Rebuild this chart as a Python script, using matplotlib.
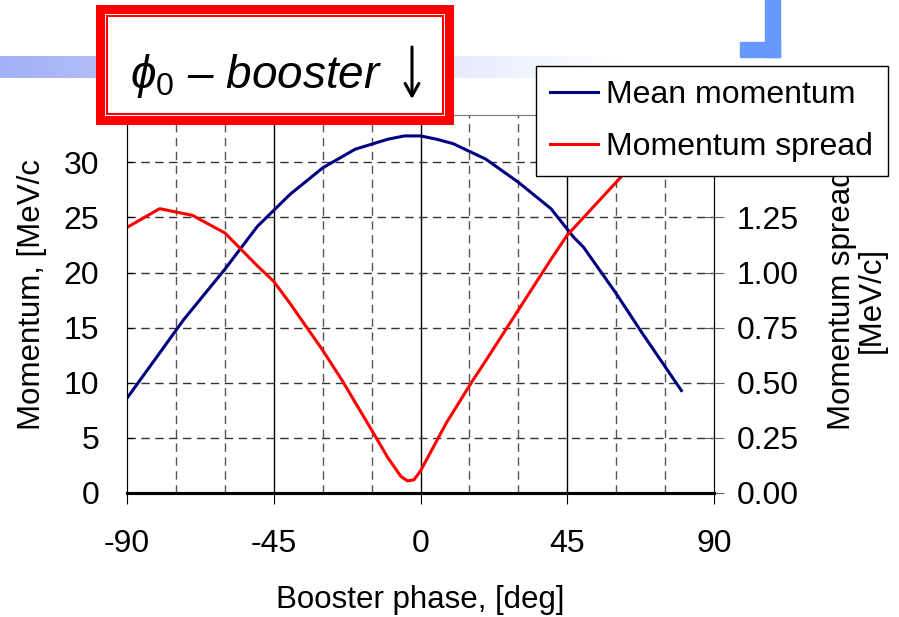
import numpy as np
import matplotlib
matplotlib.use("Agg")
import matplotlib.pyplot as plt
from matplotlib.patches import Rectangle, FancyArrowPatch

plt.rcParams['font.family'] = ['Liberation Sans', 'DejaVu Sans']
plt.rcParams['mathtext.fontset'] = 'custom'
plt.rcParams['mathtext.it'] = 'Liberation Sans:italic'
plt.rcParams['mathtext.rm'] = 'Liberation Sans'
plt.rcParams['axes.unicode_minus'] = False

# mean momentum, MeV/c (left axis)
phase_mean = [-90, -80, -72.7, -60, -50, -40, -30, -20, -10, -5, 0, 5, 10, 20, 30, 40, 47, 50, 60, 68, 80]
mean_mom = [8.6, 12.7, 15.7, 20.3, 24.2, 27.1, 29.5, 31.2, 32.1, 32.4, 32.4, 32.1, 31.7, 30.3, 28.2, 25.8, 23.2, 22.3, 18.1, 14.5, 9.3]

# momentum spread, MeV/c (right axis)
phase_spread = [-90, -80, -70, -60, -50, -45, -40, -30, -24, -15, -10, -6, -4, -2, 0, 4, 8, 16, 20, 30, 40, 45, 50, 55, 60, 65, 70, 80]
spread = [1.205, 1.29, 1.26, 1.18, 1.03, 0.96, 0.86, 0.648, 0.51, 0.286, 0.16, 0.075, 0.055, 0.06, 0.10, 0.21, 0.32, 0.51, 0.60, 0.83, 1.06, 1.17, 1.25, 1.33, 1.41, 1.49, 1.56, 1.70]

right_ticks = [0, 0.25, 0.5, 0.75, 1.0, 1.25, 1.5]
right_labels = ['0.00', '0.25', '0.50', '0.75', '1.00', '1.25', '']  # 1.50 sits under the legend

W, H = 899, 617
fig = plt.figure(figsize=(W / 100, H / 100), dpi=100)

def fx(x):
    return x / W

def fy(y):
    return 1 - y / H

# background decoration: gradient band and blue corner
band = fig.add_axes([0, fy(78), 1, (78 - 56) / H], zorder=-2)
grad = np.linspace(0, 1, 400)
c0 = np.array([0.64, 0.69, 0.965])
rgb = c0[None, :] + (1 - c0[None, :]) * np.clip(grad[:, None] / 0.69, 0, 1)
band.imshow(rgb[None, :, :], aspect='auto', extent=[0, 1, 0, 1])
band.axis('off')

fig.add_artist(Rectangle((fx(765), fy(57)), fx(15), 57 / H, transform=fig.transFigure, color='#6699FF', zorder=1))
fig.add_artist(Rectangle((fx(740), fy(57)), fx(40), 15 / H, transform=fig.transFigure, color='#6699FF', zorder=1))

# main axes
ax = fig.add_axes([fx(127), fy(493), fx(587), (493 - 115) / H])
ax2 = ax.twinx()

ax.plot(phase_mean, mean_mom, color='#000080', lw=2.2, label='Mean momentum')
ax2.plot(phase_spread, spread, color='#FF0000', lw=2.2, label='Momentum spread')

ymax = 34.3
ax.set_ylim(0, ymax)
ax2.set_ylim(0, ymax / 20)
ax.set_xlim(-90, 90)

ax.set_xticks([-90, -45, 0, 45, 90])
ax.set_yticks(np.arange(0, 31, 5))
ax2.set_yticks(right_ticks)
ax2.set_yticklabels(right_labels)

# grid
for v in [-75, -60, -30, -15, 15, 30, 60, 75]:
    ax.axvline(v, color='#555555', lw=1, ls=(0, (6, 4)), zorder=0.5)
for v in [-45, 0, 45]:
    ax.axvline(v, color='black', lw=1, zorder=0.5)
for v in np.arange(5, 31, 5):
    ax.axhline(v, color='#333333', lw=1, ls=(0, (6, 4)), zorder=0.5)

ax.spines['top'].set_color('#808080')
ax2.spines['top'].set_color('#808080')
ax.spines['bottom'].set_linewidth(2.2)
ax2.spines['bottom'].set_linewidth(2.2)

ax.tick_params(axis='x', labelsize=23, direction='out', length=8, pad=18)
ax.tick_params(axis='y', labelsize=23, direction='in', length=4, pad=20)
ax2.tick_params(axis='y', labelsize=23, direction='inout', length=15, pad=9, color='#606060')

fig.text(fx(420), fy(600), 'Booster phase, [deg]', ha='center', va='center', fontsize=22.5)
fig.text(fx(32), fy(295), 'Momentum, [MeV/c', ha='center', va='center', rotation=90, fontsize=22.5)
fig.text(fx(857), fy(300), 'Momentum spread\n[MeV/c]', ha='center', va='center', rotation=90,
         fontsize=22.5, linespacing=1.0, zorder=-1)

h1, l1 = ax.get_legend_handles_labels()
h2, l2 = ax2.get_legend_handles_labels()
leg = ax2.legend(h1 + h2, l1 + l2, loc='upper left', bbox_to_anchor=(fx(536), fy(66)),
                 bbox_transform=fig.transFigure, fontsize=23, frameon=True, fancybox=False,
                 framealpha=1, edgecolor='black', handlelength=1.5, handletextpad=0.25,
                 labelspacing=0.68, borderpad=0.45, borderaxespad=0)
leg.get_frame().set_linewidth(1)
leg.set_zorder(10)

# title box
fig.add_artist(Rectangle((fx(96), fy(125)), fx(358), 120 / H, transform=fig.transFigure,
                         facecolor='#FF0000', edgecolor='none', zorder=5))
fig.add_artist(Rectangle((fx(105), fy(116)), fx(340), 102 / H, transform=fig.transFigure,
                         facecolor='white', edgecolor='none', zorder=5))
fig.add_artist(Rectangle((fx(107), fy(114)), fx(336), 98 / H, transform=fig.transFigure,
                         facecolor='white', edgecolor='#FF0000', lw=1.5, zorder=5))
fig.text(fx(130), fy(76), r'$\phi_{\mathit{0}}$ – booster', ha='left', va='center', fontsize=33,
         style='italic', zorder=6)
fig.add_artist(FancyArrowPatch((fx(412), fy(47)), (fx(412), fy(99)), transform=fig.transFigure,
                               arrowstyle='->,head_length=9,head_width=5', lw=2.2, color='black',
                               shrinkA=0, shrinkB=0, zorder=6))

fig.savefig('out.png', dpi=100)
